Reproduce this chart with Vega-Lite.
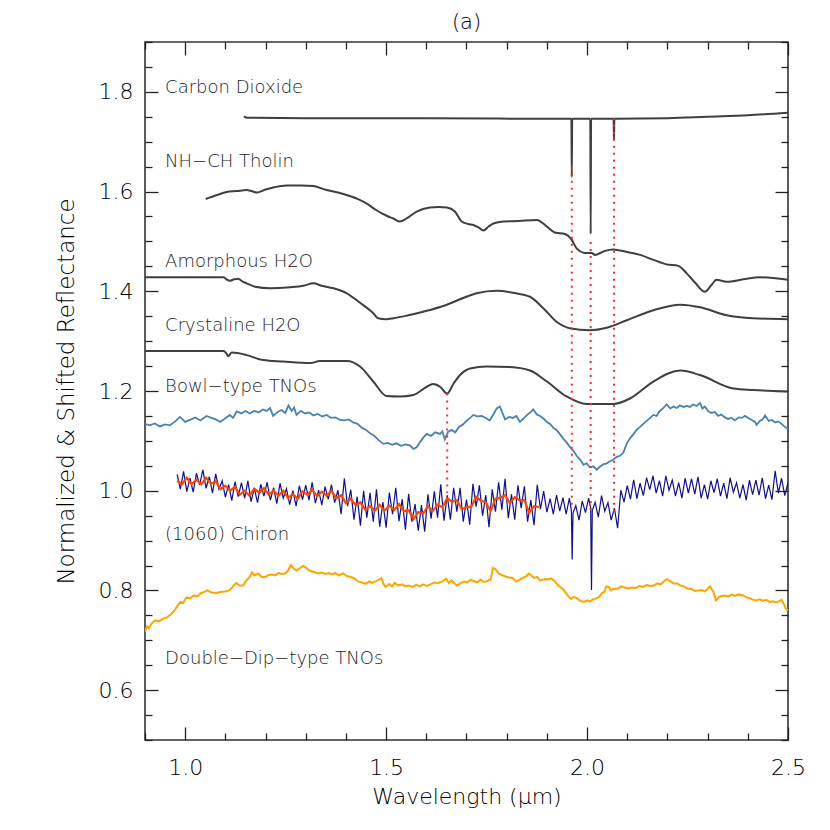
{
"$schema":"https://vega.github.io/schema/vega-lite/v6.json",
"width":643,"height":698,
"autosize":{"type":"none"},
"padding":{"left":145,"top":42,"right":42,"bottom":90},
"background":"white",
"title":{"text":"(a)","fontSize":21,"fontWeight":200,"font":"DejaVu Sans","offset":8,"color":"black"},
"config":{
 "font":"DejaVu Sans",
 "view":{"stroke":"#333","strokeWidth":1.6},
 "axis":{"domain":false,"tickColor":"#222","tickWidth":1.3,"labelFont":"DejaVu Sans","labelFontSize":22,"labelFontWeight":200,"labelColor":"black","titleFont":"DejaVu Sans","titleFontSize":22,"titleFontWeight":200,"titleColor":"black","labelOverlap":false,"labelFlush":false,"grid":false}
},
"datasets":{
"spec":[
{"s":"co2","x":1.146,"y":1.751},{"s":"co2","x":1.155,"y":1.748},{"s":"co2","x":1.3,"y":1.747},{"s":"co2","x":1.6,"y":1.747},{"s":"co2","x":1.9,"y":1.746},{"s":"co2","x":1.961,"y":1.746},{"s":"co2","x":1.962,"y":1.629},{"s":"co2","x":1.963,"y":1.746},{"s":"co2","x":2.008,"y":1.746},{"s":"co2","x":2.009,"y":1.515},{"s":"co2","x":2.010,"y":1.746},{"s":"co2","x":2.066,"y":1.746},{"s":"co2","x":2.067,"y":1.703},{"s":"co2","x":2.068,"y":1.746},{"s":"co2","x":2.2,"y":1.747},{"s":"co2","x":2.3,"y":1.750},{"s":"co2","x":2.4,"y":1.753},{"s":"co2","x":2.5,"y":1.758},
{"s":"tholin","x":1.051,"y":1.585},{"s":"tholin","x":1.075,"y":1.592},{"s":"tholin","x":1.103,"y":1.599},{"s":"tholin","x":1.128,"y":1.601},{"s":"tholin","x":1.153,"y":1.603},{"s":"tholin","x":1.165,"y":1.601},{"s":"tholin","x":1.178,"y":1.598},{"s":"tholin","x":1.2,"y":1.604},{"s":"tholin","x":1.219,"y":1.608},{"s":"tholin","x":1.253,"y":1.612},{"s":"tholin","x":1.29,"y":1.612},{"s":"tholin","x":1.319,"y":1.611},{"s":"tholin","x":1.352,"y":1.603},{"s":"tholin","x":1.38,"y":1.598},{"s":"tholin","x":1.402,"y":1.593},{"s":"tholin","x":1.43,"y":1.585},{"s":"tholin","x":1.452,"y":1.576},{"s":"tholin","x":1.475,"y":1.563},{"s":"tholin","x":1.493,"y":1.555},{"s":"tholin","x":1.505,"y":1.55},{"s":"tholin","x":1.518,"y":1.546},{"s":"tholin","x":1.534,"y":1.54},{"s":"tholin","x":1.551,"y":1.546},{"s":"tholin","x":1.576,"y":1.56},{"s":"tholin","x":1.609,"y":1.568},{"s":"tholin","x":1.63,"y":1.569},{"s":"tholin","x":1.651,"y":1.568},{"s":"tholin","x":1.671,"y":1.56},{"s":"tholin","x":1.688,"y":1.54},{"s":"tholin","x":1.704,"y":1.535},{"s":"tholin","x":1.717,"y":1.533},{"s":"tholin","x":1.73,"y":1.528},{"s":"tholin","x":1.742,"y":1.522},{"s":"tholin","x":1.755,"y":1.53},{"s":"tholin","x":1.767,"y":1.536},{"s":"tholin","x":1.792,"y":1.54},{"s":"tholin","x":1.83,"y":1.541},{"s":"tholin","x":1.875,"y":1.543},{"s":"tholin","x":1.9,"y":1.53},{"s":"tholin","x":1.92,"y":1.518},{"s":"tholin","x":1.945,"y":1.515},{"s":"tholin","x":1.962,"y":1.503},{"s":"tholin","x":1.974,"y":1.486},{"s":"tholin","x":1.995,"y":1.477},{"s":"tholin","x":2.011,"y":1.477},{"s":"tholin","x":2.02,"y":1.473},{"s":"tholin","x":2.028,"y":1.475},{"s":"tholin","x":2.045,"y":1.481},{"s":"tholin","x":2.065,"y":1.484},{"s":"tholin","x":2.099,"y":1.479},{"s":"tholin","x":2.132,"y":1.473},{"s":"tholin","x":2.165,"y":1.463},{"s":"tholin","x":2.198,"y":1.454},{"s":"tholin","x":2.227,"y":1.451},{"s":"tholin","x":2.248,"y":1.436},{"s":"tholin","x":2.269,"y":1.417},{"s":"tholin","x":2.293,"y":1.399},{"s":"tholin","x":2.31,"y":1.413},{"s":"tholin","x":2.322,"y":1.423},{"s":"tholin","x":2.347,"y":1.419},{"s":"tholin","x":2.389,"y":1.424},{"s":"tholin","x":2.43,"y":1.428},{"s":"tholin","x":2.5,"y":1.423},
{"s":"amorph","x":0.9,"y":1.428},{"s":"amorph","x":1.095,"y":1.428},{"s":"amorph","x":1.103,"y":1.424},{"s":"amorph","x":1.111,"y":1.421},{"s":"amorph","x":1.122,"y":1.424},{"s":"amorph","x":1.132,"y":1.425},{"s":"amorph","x":1.142,"y":1.42},{"s":"amorph","x":1.153,"y":1.416},{"s":"amorph","x":1.174,"y":1.409},{"s":"amorph","x":1.211,"y":1.406},{"s":"amorph","x":1.261,"y":1.408},{"s":"amorph","x":1.294,"y":1.411},{"s":"amorph","x":1.319,"y":1.416},{"s":"amorph","x":1.34,"y":1.411},{"s":"amorph","x":1.369,"y":1.406},{"s":"amorph","x":1.402,"y":1.396},{"s":"amorph","x":1.435,"y":1.377},{"s":"amorph","x":1.468,"y":1.356},{"s":"amorph","x":1.48,"y":1.346},{"s":"amorph","x":1.5,"y":1.344},{"s":"amorph","x":1.518,"y":1.346},{"s":"amorph","x":1.555,"y":1.352},{"s":"amorph","x":1.592,"y":1.359},{"s":"amorph","x":1.651,"y":1.373},{"s":"amorph","x":1.684,"y":1.384},{"s":"amorph","x":1.725,"y":1.396},{"s":"amorph","x":1.775,"y":1.401},{"s":"amorph","x":1.816,"y":1.397},{"s":"amorph","x":1.858,"y":1.389},{"s":"amorph","x":1.891,"y":1.366},{"s":"amorph","x":1.924,"y":1.339},{"s":"amorph","x":1.957,"y":1.326},{"s":"amorph","x":2.007,"y":1.322},{"s":"amorph","x":2.049,"y":1.327},{"s":"amorph","x":2.099,"y":1.342},{"s":"amorph","x":2.165,"y":1.362},{"s":"amorph","x":2.232,"y":1.373},{"s":"amorph","x":2.281,"y":1.368},{"s":"amorph","x":2.347,"y":1.352},{"s":"amorph","x":2.414,"y":1.346},{"s":"amorph","x":2.5,"y":1.344},
{"s":"cryst","x":0.9,"y":1.28},{"s":"cryst","x":1.095,"y":1.28},{"s":"cryst","x":1.102,"y":1.276},{"s":"cryst","x":1.107,"y":1.27},{"s":"cryst","x":1.116,"y":1.277},{"s":"cryst","x":1.13,"y":1.276},{"s":"cryst","x":1.153,"y":1.272},{"s":"cryst","x":1.194,"y":1.262},{"s":"cryst","x":1.244,"y":1.259},{"s":"cryst","x":1.311,"y":1.256},{"s":"cryst","x":1.335,"y":1.26},{"s":"cryst","x":1.402,"y":1.26},{"s":"cryst","x":1.435,"y":1.249},{"s":"cryst","x":1.468,"y":1.219},{"s":"cryst","x":1.501,"y":1.19},{"s":"cryst","x":1.535,"y":1.189},{"s":"cryst","x":1.568,"y":1.192},{"s":"cryst","x":1.6,"y":1.208},{"s":"cryst","x":1.617,"y":1.214},{"s":"cryst","x":1.635,"y":1.208},{"s":"cryst","x":1.652,"y":1.195},{"s":"cryst","x":1.668,"y":1.215},{"s":"cryst","x":1.684,"y":1.232},{"s":"cryst","x":1.709,"y":1.245},{"s":"cryst","x":1.75,"y":1.249},{"s":"cryst","x":1.808,"y":1.248},{"s":"cryst","x":1.858,"y":1.241},{"s":"cryst","x":1.9,"y":1.219},{"s":"cryst","x":1.949,"y":1.189},{"s":"cryst","x":1.999,"y":1.174},{"s":"cryst","x":2.065,"y":1.174},{"s":"cryst","x":2.107,"y":1.185},{"s":"cryst","x":2.165,"y":1.219},{"s":"cryst","x":2.232,"y":1.241},{"s":"cryst","x":2.281,"y":1.232},{"s":"cryst","x":2.364,"y":1.205},{"s":"cryst","x":2.414,"y":1.202},{"s":"cryst","x":2.5,"y":1.199},
{"s":"bowl","x":0.9,"y":1.134},{"s":"bowl","x":0.912,"y":1.131},{"s":"bowl","x":0.924,"y":1.135},{"s":"bowl","x":0.937,"y":1.129},{"s":"bowl","x":0.95,"y":1.133},{"s":"bowl","x":0.962,"y":1.131},{"s":"bowl","x":0.975,"y":1.139},{"s":"bowl","x":0.987,"y":1.148},{"s":"bowl","x":1.0,"y":1.138},{"s":"bowl","x":1.012,"y":1.142},{"s":"bowl","x":1.025,"y":1.147},{"s":"bowl","x":1.038,"y":1.141},{"s":"bowl","x":1.053,"y":1.15},{"s":"bowl","x":1.065,"y":1.146},{"s":"bowl","x":1.076,"y":1.143},{"s":"bowl","x":1.087,"y":1.138},{"s":"bowl","x":1.099,"y":1.145},{"s":"bowl","x":1.111,"y":1.152},{"s":"bowl","x":1.119,"y":1.146},{"s":"bowl","x":1.128,"y":1.159},{"s":"bowl","x":1.14,"y":1.155},{"s":"bowl","x":1.15,"y":1.16},{"s":"bowl","x":1.161,"y":1.155},{"s":"bowl","x":1.172,"y":1.16},{"s":"bowl","x":1.183,"y":1.157},{"s":"bowl","x":1.193,"y":1.163},{"s":"bowl","x":1.203,"y":1.16},{"s":"bowl","x":1.211,"y":1.166},{"s":"bowl","x":1.219,"y":1.15},{"s":"bowl","x":1.23,"y":1.158},{"s":"bowl","x":1.24,"y":1.162},{"s":"bowl","x":1.249,"y":1.156},{"s":"bowl","x":1.257,"y":1.171},{"s":"bowl","x":1.265,"y":1.16},{"s":"bowl","x":1.271,"y":1.167},{"s":"bowl","x":1.277,"y":1.152},{"s":"bowl","x":1.288,"y":1.16},{"s":"bowl","x":1.298,"y":1.155},{"s":"bowl","x":1.309,"y":1.157},{"s":"bowl","x":1.319,"y":1.151},{"s":"bowl","x":1.33,"y":1.154},{"s":"bowl","x":1.341,"y":1.149},{"s":"bowl","x":1.352,"y":1.152},{"s":"bowl","x":1.363,"y":1.146},{"s":"bowl","x":1.374,"y":1.147},{"s":"bowl","x":1.385,"y":1.142},{"s":"bowl","x":1.396,"y":1.141},{"s":"bowl","x":1.407,"y":1.143},{"s":"bowl","x":1.418,"y":1.137},{"s":"bowl","x":1.429,"y":1.134},{"s":"bowl","x":1.44,"y":1.126},{"s":"bowl","x":1.45,"y":1.122},{"s":"bowl","x":1.46,"y":1.115},{"s":"bowl","x":1.471,"y":1.11},{"s":"bowl","x":1.482,"y":1.101},{"s":"bowl","x":1.493,"y":1.094},{"s":"bowl","x":1.504,"y":1.096},{"s":"bowl","x":1.515,"y":1.092},{"s":"bowl","x":1.526,"y":1.095},{"s":"bowl","x":1.537,"y":1.09},{"s":"bowl","x":1.548,"y":1.093},{"s":"bowl","x":1.559,"y":1.091},{"s":"bowl","x":1.568,"y":1.084},{"s":"bowl","x":1.576,"y":1.087},{"s":"bowl","x":1.585,"y":1.098},{"s":"bowl","x":1.594,"y":1.108},{"s":"bowl","x":1.601,"y":1.114},{"s":"bowl","x":1.612,"y":1.11},{"s":"bowl","x":1.622,"y":1.117},{"s":"bowl","x":1.634,"y":1.114},{"s":"bowl","x":1.64,"y":1.119},{"s":"bowl","x":1.646,"y":1.103},{"s":"bowl","x":1.654,"y":1.118},{"s":"bowl","x":1.663,"y":1.122},{"s":"bowl","x":1.672,"y":1.117},{"s":"bowl","x":1.681,"y":1.128},{"s":"bowl","x":1.69,"y":1.132},{"s":"bowl","x":1.7,"y":1.14},{"s":"bowl","x":1.709,"y":1.146},{"s":"bowl","x":1.717,"y":1.152},{"s":"bowl","x":1.727,"y":1.149},{"s":"bowl","x":1.738,"y":1.15},{"s":"bowl","x":1.748,"y":1.146},{"s":"bowl","x":1.758,"y":1.141},{"s":"bowl","x":1.766,"y":1.152},{"s":"bowl","x":1.775,"y":1.165},{"s":"bowl","x":1.783,"y":1.169},{"s":"bowl","x":1.79,"y":1.155},{"s":"bowl","x":1.796,"y":1.143},{"s":"bowl","x":1.806,"y":1.148},{"s":"bowl","x":1.815,"y":1.146},{"s":"bowl","x":1.824,"y":1.15},{"s":"bowl","x":1.833,"y":1.138},{"s":"bowl","x":1.842,"y":1.145},{"s":"bowl","x":1.851,"y":1.152},{"s":"bowl","x":1.86,"y":1.158},{"s":"bowl","x":1.866,"y":1.163},{"s":"bowl","x":1.875,"y":1.153},{"s":"bowl","x":1.883,"y":1.15},{"s":"bowl","x":1.891,"y":1.145},{"s":"bowl","x":1.9,"y":1.138},{"s":"bowl","x":1.908,"y":1.134},{"s":"bowl","x":1.916,"y":1.126},{"s":"bowl","x":1.924,"y":1.122},{"s":"bowl","x":1.932,"y":1.114},{"s":"bowl","x":1.941,"y":1.104},{"s":"bowl","x":1.949,"y":1.097},{"s":"bowl","x":1.957,"y":1.088},{"s":"bowl","x":1.966,"y":1.08},{"s":"bowl","x":1.974,"y":1.07},{"s":"bowl","x":1.982,"y":1.063},{"s":"bowl","x":1.991,"y":1.052},{"s":"bowl","x":1.999,"y":1.055},{"s":"bowl","x":2.007,"y":1.047},{"s":"bowl","x":2.016,"y":1.049},{"s":"bowl","x":2.024,"y":1.042},{"s":"bowl","x":2.032,"y":1.048},{"s":"bowl","x":2.04,"y":1.053},{"s":"bowl","x":2.049,"y":1.055},{"s":"bowl","x":2.057,"y":1.059},{"s":"bowl","x":2.065,"y":1.062},{"s":"bowl","x":2.074,"y":1.068},{"s":"bowl","x":2.082,"y":1.07},{"s":"bowl","x":2.09,"y":1.076},{"s":"bowl","x":2.099,"y":1.095},{"s":"bowl","x":2.107,"y":1.105},{"s":"bowl","x":2.115,"y":1.113},{"s":"bowl","x":2.123,"y":1.122},{"s":"bowl","x":2.132,"y":1.128},{"s":"bowl","x":2.14,"y":1.134},{"s":"bowl","x":2.148,"y":1.14},{"s":"bowl","x":2.157,"y":1.146},{"s":"bowl","x":2.165,"y":1.152},{"s":"bowl","x":2.173,"y":1.15},{"s":"bowl","x":2.181,"y":1.16},{"s":"bowl","x":2.19,"y":1.166},{"s":"bowl","x":2.198,"y":1.173},{"s":"bowl","x":2.207,"y":1.165},{"s":"bowl","x":2.215,"y":1.169},{"s":"bowl","x":2.223,"y":1.166},{"s":"bowl","x":2.231,"y":1.171},{"s":"bowl","x":2.24,"y":1.168},{"s":"bowl","x":2.248,"y":1.17},{"s":"bowl","x":2.256,"y":1.168},{"s":"bowl","x":2.264,"y":1.173},{"s":"bowl","x":2.273,"y":1.17},{"s":"bowl","x":2.281,"y":1.176},{"s":"bowl","x":2.287,"y":1.165},{"s":"bowl","x":2.293,"y":1.169},{"s":"bowl","x":2.301,"y":1.16},{"s":"bowl","x":2.31,"y":1.156},{"s":"bowl","x":2.318,"y":1.158},{"s":"bowl","x":2.326,"y":1.15},{"s":"bowl","x":2.334,"y":1.153},{"s":"bowl","x":2.343,"y":1.147},{"s":"bowl","x":2.351,"y":1.144},{"s":"bowl","x":2.36,"y":1.146},{"s":"bowl","x":2.368,"y":1.141},{"s":"bowl","x":2.377,"y":1.147},{"s":"bowl","x":2.385,"y":1.146},{"s":"bowl","x":2.393,"y":1.15},{"s":"bowl","x":2.401,"y":1.146},{"s":"bowl","x":2.41,"y":1.142},{"s":"bowl","x":2.418,"y":1.138},{"s":"bowl","x":2.422,"y":1.132},{"s":"bowl","x":2.43,"y":1.14},{"s":"bowl","x":2.437,"y":1.143},{"s":"bowl","x":2.443,"y":1.151},{"s":"bowl","x":2.452,"y":1.14},{"s":"bowl","x":2.46,"y":1.142},{"s":"bowl","x":2.468,"y":1.137},{"s":"bowl","x":2.476,"y":1.139},{"s":"bowl","x":2.484,"y":1.134},{"s":"bowl","x":2.492,"y":1.128},{"s":"bowl","x":2.5,"y":1.124},
{"s":"chiron","x":0.98,"y":1.033},{"s":"chiron","x":0.988,"y":1.003},{"s":"chiron","x":0.996,"y":1.039},{"s":"chiron","x":1.004,"y":0.998},{"s":"chiron","x":1.012,"y":1.025},{"s":"chiron","x":1.02,"y":0.997},{"s":"chiron","x":1.028,"y":1.035},{"s":"chiron","x":1.036,"y":1.012},{"s":"chiron","x":1.044,"y":1.042},{"s":"chiron","x":1.052,"y":1.005},{"s":"chiron","x":1.06,"y":1.028},{"s":"chiron","x":1.068,"y":0.995},{"s":"chiron","x":1.076,"y":1.034},{"s":"chiron","x":1.084,"y":1.003},{"s":"chiron","x":1.092,"y":1.02},{"s":"chiron","x":1.1,"y":0.987},{"s":"chiron","x":1.108,"y":1.012},{"s":"chiron","x":1.116,"y":0.98},{"s":"chiron","x":1.124,"y":1.018},{"s":"chiron","x":1.132,"y":0.988},{"s":"chiron","x":1.14,"y":1.016},{"s":"chiron","x":1.148,"y":0.985},{"s":"chiron","x":1.156,"y":1.02},{"s":"chiron","x":1.164,"y":0.978},{"s":"chiron","x":1.172,"y":1.005},{"s":"chiron","x":1.18,"y":0.976},{"s":"chiron","x":1.188,"y":1.013},{"s":"chiron","x":1.196,"y":0.989},{"s":"chiron","x":1.204,"y":1.017},{"s":"chiron","x":1.212,"y":0.981},{"s":"chiron","x":1.22,"y":1.006},{"s":"chiron","x":1.228,"y":0.974},{"s":"chiron","x":1.236,"y":1.015},{"s":"chiron","x":1.244,"y":0.985},{"s":"chiron","x":1.252,"y":1.004},{"s":"chiron","x":1.26,"y":0.972},{"s":"chiron","x":1.268,"y":1.0},{"s":"chiron","x":1.276,"y":0.969},{"s":"chiron","x":1.284,"y":1.01},{"s":"chiron","x":1.292,"y":0.982},{"s":"chiron","x":1.3,"y":1.011},{"s":"chiron","x":1.308,"y":0.981},{"s":"chiron","x":1.316,"y":1.017},{"s":"chiron","x":1.324,"y":0.975},{"s":"chiron","x":1.332,"y":1.001},{"s":"chiron","x":1.34,"y":0.971},{"s":"chiron","x":1.348,"y":1.008},{"s":"chiron","x":1.356,"y":0.983},{"s":"chiron","x":1.364,"y":1.012},{"s":"chiron","x":1.372,"y":0.976},{"s":"chiron","x":1.38,"y":1.001},{"s":"chiron","x":1.388,"y":0.953},{"s":"chiron","x":1.396,"y":1.025},{"s":"chiron","x":1.404,"y":0.969},{"s":"chiron","x":1.412,"y":1.002},{"s":"chiron","x":1.42,"y":0.942},{"s":"chiron","x":1.428,"y":0.988},{"s":"chiron","x":1.436,"y":0.93},{"s":"chiron","x":1.444,"y":1.0},{"s":"chiron","x":1.452,"y":0.946},{"s":"chiron","x":1.46,"y":0.996},{"s":"chiron","x":1.468,"y":0.938},{"s":"chiron","x":1.476,"y":1.003},{"s":"chiron","x":1.484,"y":0.928},{"s":"chiron","x":1.492,"y":0.977},{"s":"chiron","x":1.5,"y":0.926},{"s":"chiron","x":1.508,"y":0.996},{"s":"chiron","x":1.516,"y":0.953},{"s":"chiron","x":1.524,"y":1.006},{"s":"chiron","x":1.532,"y":0.939},{"s":"chiron","x":1.54,"y":0.983},{"s":"chiron","x":1.548,"y":0.922},{"s":"chiron","x":1.556,"y":0.994},{"s":"chiron","x":1.564,"y":0.938},{"s":"chiron","x":1.572,"y":0.973},{"s":"chiron","x":1.58,"y":0.92},{"s":"chiron","x":1.588,"y":0.971},{"s":"chiron","x":1.596,"y":0.918},{"s":"chiron","x":1.604,"y":0.993},{"s":"chiron","x":1.612,"y":0.944},{"s":"chiron","x":1.62,"y":0.999},{"s":"chiron","x":1.628,"y":0.946},{"s":"chiron","x":1.636,"y":1.013},{"s":"chiron","x":1.644,"y":0.94},{"s":"chiron","x":1.652,"y":0.991},{"s":"chiron","x":1.66,"y":0.942},{"s":"chiron","x":1.668,"y":1.006},{"s":"chiron","x":1.676,"y":0.958},{"s":"chiron","x":1.684,"y":1.006},{"s":"chiron","x":1.692,"y":0.938},{"s":"chiron","x":1.7,"y":0.982},{"s":"chiron","x":1.708,"y":0.932},{"s":"chiron","x":1.716,"y":1.014},{"s":"chiron","x":1.724,"y":0.968},{"s":"chiron","x":1.732,"y":1.011},{"s":"chiron","x":1.74,"y":0.95},{"s":"chiron","x":1.748,"y":0.991},{"s":"chiron","x":1.756,"y":0.927},{"s":"chiron","x":1.764,"y":1.003},{"s":"chiron","x":1.772,"y":0.958},{"s":"chiron","x":1.78,"y":1.017},{"s":"chiron","x":1.788,"y":0.962},{"s":"chiron","x":1.796,"y":1.024},{"s":"chiron","x":1.804,"y":0.945},{"s":"chiron","x":1.812,"y":0.993},{"s":"chiron","x":1.82,"y":0.942},{"s":"chiron","x":1.828,"y":1.011},{"s":"chiron","x":1.836,"y":0.965},{"s":"chiron","x":1.844,"y":1.009},{"s":"chiron","x":1.852,"y":0.938},{"s":"chiron","x":1.86,"y":0.981},{"s":"chiron","x":1.868,"y":0.931},{"s":"chiron","x":1.876,"y":1.012},{"s":"chiron","x":1.884,"y":0.963},{"s":"chiron","x":1.892,"y":0.999},{"s":"chiron","x":1.9,"y":0.957},{"s":"chiron","x":1.908,"y":0.984},{"s":"chiron","x":1.916,"y":0.953},{"s":"chiron","x":1.924,"y":0.991},{"s":"chiron","x":1.932,"y":0.959},{"s":"chiron","x":1.94,"y":0.986},{"s":"chiron","x":1.948,"y":0.953},{"s":"chiron","x":1.956,"y":0.985},{"s":"chiron","x":1.961,"y":0.96},{"s":"chiron","x":1.963,"y":0.862},{"s":"chiron","x":1.965,"y":0.955},{"s":"chiron","x":1.972,"y":0.97},{"s":"chiron","x":1.98,"y":0.941},{"s":"chiron","x":1.988,"y":0.979},{"s":"chiron","x":1.996,"y":0.956},{"s":"chiron","x":2.004,"y":0.985},{"s":"chiron","x":2.009,"y":0.965},{"s":"chiron","x":2.011,"y":0.801},{"s":"chiron","x":2.013,"y":0.96},{"s":"chiron","x":2.02,"y":0.977},{"s":"chiron","x":2.028,"y":0.947},{"s":"chiron","x":2.036,"y":0.99},{"s":"chiron","x":2.044,"y":0.959},{"s":"chiron","x":2.052,"y":0.976},{"s":"chiron","x":2.06,"y":0.941},{"s":"chiron","x":2.068,"y":0.965},{"s":"chiron","x":2.076,"y":0.925},{"s":"chiron","x":2.084,"y":1.001},{"s":"chiron","x":2.092,"y":0.977},{"s":"chiron","x":2.1,"y":1.01},{"s":"chiron","x":2.108,"y":0.983},{"s":"chiron","x":2.116,"y":1.022},{"s":"chiron","x":2.124,"y":0.984},{"s":"chiron","x":2.132,"y":1.015},{"s":"chiron","x":2.14,"y":0.99},{"s":"chiron","x":2.148,"y":1.026},{"s":"chiron","x":2.156,"y":1.002},{"s":"chiron","x":2.164,"y":1.03},{"s":"chiron","x":2.172,"y":0.995},{"s":"chiron","x":2.18,"y":1.02},{"s":"chiron","x":2.188,"y":0.989},{"s":"chiron","x":2.196,"y":1.03},{"s":"chiron","x":2.204,"y":1.001},{"s":"chiron","x":2.212,"y":1.021},{"s":"chiron","x":2.22,"y":0.989},{"s":"chiron","x":2.228,"y":1.016},{"s":"chiron","x":2.236,"y":0.985},{"s":"chiron","x":2.244,"y":1.025},{"s":"chiron","x":2.252,"y":0.995},{"s":"chiron","x":2.26,"y":1.024},{"s":"chiron","x":2.268,"y":0.993},{"s":"chiron","x":2.276,"y":1.028},{"s":"chiron","x":2.284,"y":0.985},{"s":"chiron","x":2.292,"y":1.012},{"s":"chiron","x":2.3,"y":0.983},{"s":"chiron","x":2.308,"y":1.02},{"s":"chiron","x":2.316,"y":0.996},{"s":"chiron","x":2.324,"y":1.024},{"s":"chiron","x":2.332,"y":0.989},{"s":"chiron","x":2.34,"y":1.015},{"s":"chiron","x":2.348,"y":0.984},{"s":"chiron","x":2.356,"y":1.026},{"s":"chiron","x":2.364,"y":0.997},{"s":"chiron","x":2.372,"y":1.016},{"s":"chiron","x":2.38,"y":0.985},{"s":"chiron","x":2.388,"y":1.012},{"s":"chiron","x":2.396,"y":0.981},{"s":"chiron","x":2.404,"y":1.021},{"s":"chiron","x":2.412,"y":0.992},{"s":"chiron","x":2.42,"y":1.021},{"s":"chiron","x":2.428,"y":0.991},{"s":"chiron","x":2.436,"y":1.026},{"s":"chiron","x":2.444,"y":0.984},{"s":"chiron","x":2.452,"y":1.011},{"s":"chiron","x":2.46,"y":0.982},{"s":"chiron","x":2.468,"y":1.04},{"s":"chiron","x":2.476,"y":0.995},{"s":"chiron","x":2.484,"y":1.025},{"s":"chiron","x":2.492,"y":0.99},{"s":"chiron","x":2.5,"y":1.016},
{"s":"smooth","x":0.98,"y":1.02},{"s":"smooth","x":0.992,"y":1.013},{"s":"smooth","x":1.004,"y":1.026},{"s":"smooth","x":1.016,"y":1.013},{"s":"smooth","x":1.028,"y":1.022},{"s":"smooth","x":1.04,"y":1.013},{"s":"smooth","x":1.052,"y":1.026},{"s":"smooth","x":1.064,"y":1.014},{"s":"smooth","x":1.076,"y":1.019},{"s":"smooth","x":1.088,"y":1.003},{"s":"smooth","x":1.1,"y":1.01},{"s":"smooth","x":1.112,"y":1.0},{"s":"smooth","x":1.124,"y":1.008},{"s":"smooth","x":1.136,"y":0.992},{"s":"smooth","x":1.148,"y":1.0},{"s":"smooth","x":1.16,"y":0.99},{"s":"smooth","x":1.172,"y":1.004},{"s":"smooth","x":1.184,"y":0.996},{"s":"smooth","x":1.196,"y":1.005},{"s":"smooth","x":1.208,"y":0.992},{"s":"smooth","x":1.22,"y":1.0},{"s":"smooth","x":1.232,"y":0.99},{"s":"smooth","x":1.244,"y":1.0},{"s":"smooth","x":1.256,"y":0.985},{"s":"smooth","x":1.268,"y":0.993},{"s":"smooth","x":1.28,"y":0.984},{"s":"smooth","x":1.292,"y":0.999},{"s":"smooth","x":1.304,"y":0.992},{"s":"smooth","x":1.316,"y":1.002},{"s":"smooth","x":1.328,"y":0.989},{"s":"smooth","x":1.34,"y":0.998},{"s":"smooth","x":1.352,"y":0.99},{"s":"smooth","x":1.364,"y":1.0},{"s":"smooth","x":1.376,"y":0.985},{"s":"smooth","x":1.388,"y":0.991},{"s":"smooth","x":1.4,"y":0.975},{"s":"smooth","x":1.412,"y":0.984},{"s":"smooth","x":1.424,"y":0.971},{"s":"smooth","x":1.436,"y":0.977},{"s":"smooth","x":1.448,"y":0.962},{"s":"smooth","x":1.46,"y":0.969},{"s":"smooth","x":1.472,"y":0.96},{"s":"smooth","x":1.484,"y":0.972},{"s":"smooth","x":1.496,"y":0.96},{"s":"smooth","x":1.508,"y":0.97},{"s":"smooth","x":1.52,"y":0.961},{"s":"smooth","x":1.532,"y":0.973},{"s":"smooth","x":1.544,"y":0.959},{"s":"smooth","x":1.556,"y":0.961},{"s":"smooth","x":1.568,"y":0.943},{"s":"smooth","x":1.58,"y":0.957},{"s":"smooth","x":1.592,"y":0.954},{"s":"smooth","x":1.604,"y":0.969},{"s":"smooth","x":1.616,"y":0.959},{"s":"smooth","x":1.628,"y":0.972},{"s":"smooth","x":1.64,"y":0.967},{"s":"smooth","x":1.652,"y":0.985},{"s":"smooth","x":1.664,"y":0.978},{"s":"smooth","x":1.676,"y":0.981},{"s":"smooth","x":1.688,"y":0.963},{"s":"smooth","x":1.7,"y":0.967},{"s":"smooth","x":1.712,"y":0.968},{"s":"smooth","x":1.724,"y":0.988},{"s":"smooth","x":1.736,"y":0.98},{"s":"smooth","x":1.748,"y":0.977},{"s":"smooth","x":1.76,"y":0.959},{"s":"smooth","x":1.772,"y":0.984},{"s":"smooth","x":1.784,"y":0.986},{"s":"smooth","x":1.796,"y":0.991},{"s":"smooth","x":1.808,"y":0.975},{"s":"smooth","x":1.82,"y":0.987},{"s":"smooth","x":1.832,"y":0.981},{"s":"smooth","x":1.844,"y":0.981},{"s":"smooth","x":1.856,"y":0.956},{"s":"smooth","x":1.868,"y":0.969},{"s":"smooth","x":1.88,"y":0.967},
{"s":"ddip","x":0.899,"y":0.716},{"s":"ddip","x":0.905,"y":0.728},{"s":"ddip","x":0.91,"y":0.724},{"s":"ddip","x":0.916,"y":0.733},{"s":"ddip","x":0.925,"y":0.74},{"s":"ddip","x":0.935,"y":0.738},{"s":"ddip","x":0.944,"y":0.743},{"s":"ddip","x":0.955,"y":0.746},{"s":"ddip","x":0.966,"y":0.753},{"s":"ddip","x":0.975,"y":0.762},{"s":"ddip","x":0.982,"y":0.77},{"s":"ddip","x":0.988,"y":0.777},{"s":"ddip","x":0.995,"y":0.775},{"s":"ddip","x":1.003,"y":0.786},{"s":"ddip","x":1.012,"y":0.784},{"s":"ddip","x":1.021,"y":0.79},{"s":"ddip","x":1.03,"y":0.788},{"s":"ddip","x":1.04,"y":0.795},{"s":"ddip","x":1.048,"y":0.797},{"s":"ddip","x":1.055,"y":0.8},{"s":"ddip","x":1.066,"y":0.796},{"s":"ddip","x":1.077,"y":0.795},{"s":"ddip","x":1.088,"y":0.797},{"s":"ddip","x":1.099,"y":0.798},{"s":"ddip","x":1.11,"y":0.8},{"s":"ddip","x":1.119,"y":0.808},{"s":"ddip","x":1.127,"y":0.815},{"s":"ddip","x":1.135,"y":0.81},{"s":"ddip","x":1.144,"y":0.81},{"s":"ddip","x":1.152,"y":0.82},{"s":"ddip","x":1.16,"y":0.826},{"s":"ddip","x":1.166,"y":0.836},{"s":"ddip","x":1.173,"y":0.83},{"s":"ddip","x":1.182,"y":0.834},{"s":"ddip","x":1.19,"y":0.827},{"s":"ddip","x":1.199,"y":0.827},{"s":"ddip","x":1.208,"y":0.831},{"s":"ddip","x":1.216,"y":0.832},{"s":"ddip","x":1.224,"y":0.83},{"s":"ddip","x":1.232,"y":0.835},{"s":"ddip","x":1.24,"y":0.833},{"s":"ddip","x":1.249,"y":0.834},{"s":"ddip","x":1.256,"y":0.84},{"s":"ddip","x":1.263,"y":0.851},{"s":"ddip","x":1.27,"y":0.844},{"s":"ddip","x":1.277,"y":0.84},{"s":"ddip","x":1.286,"y":0.845},{"s":"ddip","x":1.293,"y":0.849},{"s":"ddip","x":1.299,"y":0.847},{"s":"ddip","x":1.308,"y":0.84},{"s":"ddip","x":1.316,"y":0.838},{"s":"ddip","x":1.324,"y":0.836},{"s":"ddip","x":1.332,"y":0.834},{"s":"ddip","x":1.34,"y":0.836},{"s":"ddip","x":1.349,"y":0.833},{"s":"ddip","x":1.357,"y":0.835},{"s":"ddip","x":1.366,"y":0.832},{"s":"ddip","x":1.374,"y":0.835},{"s":"ddip","x":1.383,"y":0.83},{"s":"ddip","x":1.393,"y":0.834},{"s":"ddip","x":1.402,"y":0.829},{"s":"ddip","x":1.412,"y":0.827},{"s":"ddip","x":1.421,"y":0.824},{"s":"ddip","x":1.43,"y":0.818},{"s":"ddip","x":1.44,"y":0.816},{"s":"ddip","x":1.449,"y":0.813},{"s":"ddip","x":1.458,"y":0.818},{"s":"ddip","x":1.466,"y":0.815},{"s":"ddip","x":1.474,"y":0.818},{"s":"ddip","x":1.481,"y":0.821},{"s":"ddip","x":1.488,"y":0.825},{"s":"ddip","x":1.494,"y":0.812},{"s":"ddip","x":1.499,"y":0.807},{"s":"ddip","x":1.508,"y":0.813},{"s":"ddip","x":1.515,"y":0.808},{"s":"ddip","x":1.521,"y":0.815},{"s":"ddip","x":1.53,"y":0.81},{"s":"ddip","x":1.54,"y":0.812},{"s":"ddip","x":1.548,"y":0.808},{"s":"ddip","x":1.557,"y":0.81},{"s":"ddip","x":1.566,"y":0.807},{"s":"ddip","x":1.575,"y":0.811},{"s":"ddip","x":1.584,"y":0.808},{"s":"ddip","x":1.592,"y":0.812},{"s":"ddip","x":1.601,"y":0.809},{"s":"ddip","x":1.61,"y":0.812},{"s":"ddip","x":1.62,"y":0.816},{"s":"ddip","x":1.63,"y":0.815},{"s":"ddip","x":1.64,"y":0.818},{"s":"ddip","x":1.649,"y":0.824},{"s":"ddip","x":1.656,"y":0.815},{"s":"ddip","x":1.663,"y":0.82},{"s":"ddip","x":1.67,"y":0.814},{"s":"ddip","x":1.677,"y":0.81},{"s":"ddip","x":1.686,"y":0.815},{"s":"ddip","x":1.694,"y":0.818},{"s":"ddip","x":1.702,"y":0.816},{"s":"ddip","x":1.71,"y":0.821},{"s":"ddip","x":1.718,"y":0.819},{"s":"ddip","x":1.727,"y":0.816},{"s":"ddip","x":1.735,"y":0.822},{"s":"ddip","x":1.743,"y":0.817},{"s":"ddip","x":1.752,"y":0.819},{"s":"ddip","x":1.76,"y":0.822},{"s":"ddip","x":1.766,"y":0.845},{"s":"ddip","x":1.772,"y":0.843},{"s":"ddip","x":1.78,"y":0.834},{"s":"ddip","x":1.788,"y":0.831},{"s":"ddip","x":1.797,"y":0.828},{"s":"ddip","x":1.806,"y":0.826},{"s":"ddip","x":1.815,"y":0.825},{"s":"ddip","x":1.823,"y":0.818},{"s":"ddip","x":1.832,"y":0.821},{"s":"ddip","x":1.84,"y":0.825},{"s":"ddip","x":1.848,"y":0.828},{"s":"ddip","x":1.855,"y":0.834},{"s":"ddip","x":1.86,"y":0.831},{"s":"ddip","x":1.868,"y":0.825},{"s":"ddip","x":1.876,"y":0.827},{"s":"ddip","x":1.882,"y":0.82},{"s":"ddip","x":1.888,"y":0.821},{"s":"ddip","x":1.895,"y":0.823},{"s":"ddip","x":1.903,"y":0.822},{"s":"ddip","x":1.91,"y":0.824},{"s":"ddip","x":1.918,"y":0.82},{"s":"ddip","x":1.926,"y":0.812},{"s":"ddip","x":1.935,"y":0.806},{"s":"ddip","x":1.943,"y":0.8},{"s":"ddip","x":1.95,"y":0.792},{"s":"ddip","x":1.955,"y":0.787},{"s":"ddip","x":1.96,"y":0.783},{"s":"ddip","x":1.967,"y":0.787},{"s":"ddip","x":1.975,"y":0.784},{"s":"ddip","x":1.983,"y":0.779},{"s":"ddip","x":1.993,"y":0.777},{"s":"ddip","x":2.0,"y":0.78},{"s":"ddip","x":2.008,"y":0.778},{"s":"ddip","x":2.014,"y":0.782},{"s":"ddip","x":2.021,"y":0.783},{"s":"ddip","x":2.03,"y":0.787},{"s":"ddip","x":2.038,"y":0.795},{"s":"ddip","x":2.043,"y":0.797},{"s":"ddip","x":2.048,"y":0.808},{"s":"ddip","x":2.054,"y":0.807},{"s":"ddip","x":2.059,"y":0.8},{"s":"ddip","x":2.066,"y":0.803},{"s":"ddip","x":2.077,"y":0.804},{"s":"ddip","x":2.085,"y":0.808},{"s":"ddip","x":2.094,"y":0.806},{"s":"ddip","x":2.102,"y":0.804},{"s":"ddip","x":2.112,"y":0.806},{"s":"ddip","x":2.121,"y":0.805},{"s":"ddip","x":2.13,"y":0.809},{"s":"ddip","x":2.14,"y":0.807},{"s":"ddip","x":2.148,"y":0.811},{"s":"ddip","x":2.157,"y":0.809},{"s":"ddip","x":2.166,"y":0.81},{"s":"ddip","x":2.175,"y":0.814},{"s":"ddip","x":2.183,"y":0.812},{"s":"ddip","x":2.191,"y":0.818},{"s":"ddip","x":2.199,"y":0.823},{"s":"ddip","x":2.207,"y":0.818},{"s":"ddip","x":2.216,"y":0.814},{"s":"ddip","x":2.224,"y":0.814},{"s":"ddip","x":2.232,"y":0.81},{"s":"ddip","x":2.241,"y":0.808},{"s":"ddip","x":2.25,"y":0.804},{"s":"ddip","x":2.259,"y":0.803},{"s":"ddip","x":2.268,"y":0.799},{"s":"ddip","x":2.277,"y":0.8},{"s":"ddip","x":2.285,"y":0.801},{"s":"ddip","x":2.292,"y":0.798},{"s":"ddip","x":2.298,"y":0.801},{"s":"ddip","x":2.306,"y":0.808},{"s":"ddip","x":2.314,"y":0.798},{"s":"ddip","x":2.321,"y":0.78},{"s":"ddip","x":2.33,"y":0.788},{"s":"ddip","x":2.343,"y":0.79},{"s":"ddip","x":2.352,"y":0.788},{"s":"ddip","x":2.36,"y":0.792},{"s":"ddip","x":2.368,"y":0.789},{"s":"ddip","x":2.376,"y":0.792},{"s":"ddip","x":2.388,"y":0.79},{"s":"ddip","x":2.397,"y":0.786},{"s":"ddip","x":2.406,"y":0.784},{"s":"ddip","x":2.414,"y":0.781},{"s":"ddip","x":2.421,"y":0.78},{"s":"ddip","x":2.43,"y":0.782},{"s":"ddip","x":2.438,"y":0.779},{"s":"ddip","x":2.446,"y":0.781},{"s":"ddip","x":2.454,"y":0.777},{"s":"ddip","x":2.462,"y":0.778},{"s":"ddip","x":2.47,"y":0.776},{"s":"ddip","x":2.477,"y":0.778},{"s":"ddip","x":2.484,"y":0.781},{"s":"ddip","x":2.49,"y":0.772},{"s":"ddip","x":2.495,"y":0.763},{"s":"ddip","x":2.5,"y":0.76}
],
"rules":[
{"x":1.652,"y":1.195,"y2":0.995},
{"x":1.962,"y":1.65,"y2":0.968},
{"x":2.009,"y":1.499,"y2":0.955},
{"x":2.067,"y":1.748,"y2":0.955}
],
"labels":[
{"x":0.95,"y":1.808,"t":"Carbon Dioxide"},
{"x":0.95,"y":1.659,"t":"NH−CH Tholin"},
{"x":0.95,"y":1.459,"t":"Amorphous H2O"},
{"x":0.95,"y":1.33,"t":"Crystaline H2O"},
{"x":0.95,"y":1.208,"t":"Bowl−type TNOs"},
{"x":0.95,"y":0.911,"t":"(1060) Chiron"},
{"x":0.95,"y":0.663,"t":"Double−Dip−type TNOs"}
]
},
"layer":[
{"data":{"name":"spec"},
 "transform":[{"filter":"indexof(['co2','tholin','amorph','cryst'], datum.s) >= 0"}],
 "mark":{"type":"line","interpolate":"monotone","color":"#3f3f3f","strokeWidth":2,"clip":true},
 "encoding":{
  "x":{"field":"x","type":"quantitative","scale":{"domain":[0.9,2.5],"nice":false,"zero":false},
   "axis":{"orient":"bottom","title":"Wavelength (μm)","titlePadding":8,"values":[1.0,1.5,2.0,2.5],"format":".1f","tickSize":-13,"labelPadding":30}},
  "y":{"field":"y","type":"quantitative","scale":{"domain":[0.5,1.9],"nice":false,"zero":false},
   "axis":{"orient":"left","title":"Normalized & Shifted Reflectance","titleFontSize":23,"titlePadding":20,"values":[0.6,0.8,1.0,1.2,1.4,1.6,1.8],"format":".1f","tickSize":-13,"labelPadding":25}},
  "detail":{"field":"s"}
 }},
{"data":{"name":"spec"},
 "transform":[{"filter":"datum.s == 'bowl'"}],
 "mark":{"type":"line","color":"#4682b4","strokeWidth":1.8,"clip":true},
 "encoding":{
  "x":{"field":"x","type":"quantitative","axis":{"orient":"top","title":null,"labels":false,"tickSize":-7,"values":[0.9,1.1,1.2,1.3,1.4,1.6,1.7,1.8,1.9,2.1,2.2,2.3,2.4]}},
  "y":{"field":"y","type":"quantitative","axis":{"orient":"right","title":null,"labels":false,"tickSize":-7,"values":[0.5,0.55,0.65,0.7,0.75,0.85,0.9,0.95,1.05,1.1,1.15,1.25,1.3,1.35,1.45,1.5,1.55,1.65,1.7,1.75,1.85,1.9]}}}},
{"data":{"name":"spec"},
 "transform":[{"filter":"datum.s == 'ddip'"}],
 "mark":{"type":"line","color":"#ffa500","strokeWidth":2,"clip":true},
 "encoding":{"x":{"field":"x","type":"quantitative","axis":null},"y":{"field":"y","type":"quantitative","axis":null}}},
{"data":{"name":"spec"},
 "transform":[{"filter":"datum.s == 'chiron'"}],
 "mark":{"type":"line","color":"#10108a","strokeWidth":1.2,"clip":true},
 "encoding":{"x":{"field":"x","type":"quantitative","axis":null},"y":{"field":"y","type":"quantitative","axis":null}}},
{"data":{"name":"spec"},
 "transform":[{"filter":"datum.s == 'smooth'"}],
 "mark":{"type":"line","color":"#ff4500","strokeWidth":2.2,"clip":true},
 "encoding":{"x":{"field":"x","type":"quantitative","axis":null},"y":{"field":"y","type":"quantitative","axis":null}}},
{"data":{"name":"rules"},
 "mark":{"type":"rule","color":"#ff2a2a","strokeWidth":2,"strokeDash":[2,5]},
 "encoding":{
  "x":{"field":"x","type":"quantitative",
   "axis":{"orient":"top","title":null,"labels":false,"values":[1.0,1.5,2.0,2.5],"tickSize":-13}},
  "y":{"field":"y","type":"quantitative",
   "axis":{"orient":"right","title":null,"labels":false,"values":[0.6,0.8,1.0,1.2,1.4,1.6,1.8],"tickSize":-13}},
  "y2":{"field":"y2"}
 }},
{"data":{"name":"labels"},
 "mark":{"type":"text","align":"left","baseline":"middle","fontSize":18,"fontWeight":200,"font":"DejaVu Sans","color":"#222"},
 "encoding":{
  "x":{"field":"x","type":"quantitative","axis":{"orient":"bottom","title":null,"labels":false,"tickSize":-7,"values":[0.9,1.1,1.2,1.3,1.4,1.6,1.7,1.8,1.9,2.1,2.2,2.3,2.4]}},
  "y":{"field":"y","type":"quantitative","axis":{"orient":"left","title":null,"labels":false,"tickSize":-7,"values":[0.5,0.55,0.65,0.7,0.75,0.85,0.9,0.95,1.05,1.1,1.15,1.25,1.3,1.35,1.45,1.5,1.55,1.65,1.7,1.75,1.85,1.9]}},
  "text":{"field":"t"}}}
],
"resolve":{"axis":{"x":"independent","y":"independent"}}
}
